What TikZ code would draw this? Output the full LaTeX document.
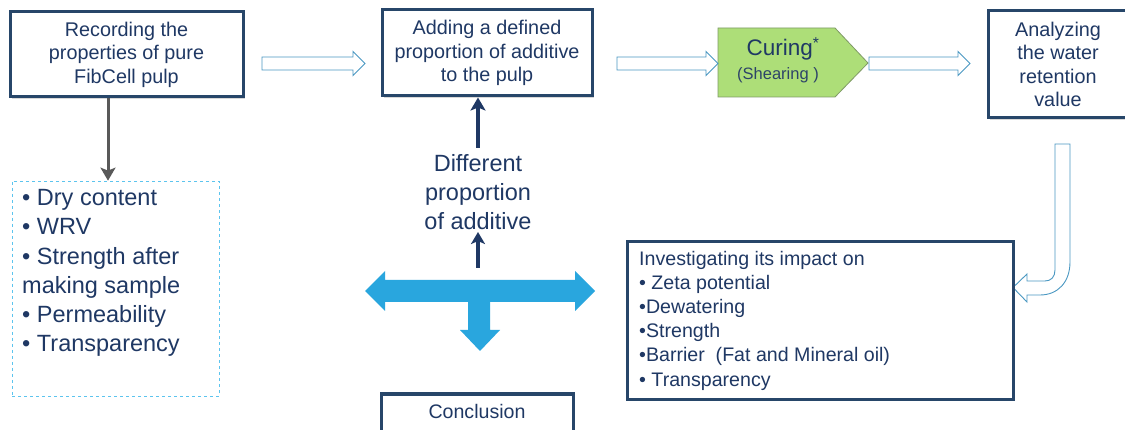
\documentclass[tikz,border=0pt]{standalone}
\usepackage{fontspec}
\setmainfont{Liberation Sans}
\usetikzlibrary{arrows.meta,shadows,calc}
\definecolor{navy}{HTML}{1F3864}
\definecolor{boxline}{HTML}{274669}
\definecolor{hollowline}{HTML}{4A98C2}
\definecolor{crossblue}{HTML}{29A6DE}
\definecolor{curegreen}{HTML}{ADDE78}
\definecolor{cureline}{HTML}{7F9A66}
\definecolor{greyarrow}{HTML}{595959}
\definecolor{dashblue}{HTML}{5CC4EE}
\newcommand\harrowshape[3]{%
  \draw[hollow] (#1,#3-6.5) -- (#2-12,#3-6.5) -- (#2-12,#3-12) -- (#2,#3)
     -- (#2-12,#3+12) -- (#2-12,#3+6.5) -- (#1,#3+6.5) -- cycle;}
\begin{document}
\begin{tikzpicture}[x=1pt,y=-1pt,
  stepbox/.style={draw=boxline,line width=3pt,fill=white,inner sep=0pt,
    text=navy,align=center,font=\fontsize{19.8}{23.5}\selectfont,
    drop shadow={shadow xshift=1.5pt,shadow yshift=-2pt,opacity=0.3,fill=gray}},
  hollow/.style={draw=hollowline,line width=0.9pt,fill=white},
  bigtext/.style={text=navy,font=\fontsize{23.5}{29.2}\selectfont,inner sep=2pt},
  boxtext/.style={text=navy,font=\fontsize{19.6}{24.2}\selectfont,inner sep=0pt},
  tip/.style={-{Stealth[length=13pt,width=15pt,inset=3pt]}}]
\fill[white] (0,0) rectangle (1125,430);
\useasboundingbox (0,0) rectangle (1125,430);

% top row boxes
\node[stepbox,minimum width=233,minimum height=85] (b1) at (126.5,54.5)
  {Recording the\\properties of pure\\FibCell pulp};
\node[stepbox,minimum width=210,minimum height=86] (b2) at (487,53)
  {Adding a defined\\proportion of additive\\to the pulp};
\node[stepbox,minimum width=140,minimum height=107] (b4) at (1058,64.5)
  {Analyzing\\the water\\retention\\value};

% curing shape
\draw[fill=curegreen,draw=cureline,line width=0.8pt] (718,28) -- (835,28) -- (868,63) -- (835,97) -- (718,97) -- cycle;
\node[text=navy,font=\fontsize{22.5}{24}\selectfont,inner sep=0pt] (cure) at (783,49) {Curing\textsuperscript{*}};
\node[text=navy!85!gray,font=\fontsize{16.5}{18}\selectfont,inner sep=0pt] (shear) at (778,75) {(Shearing )};

% hollow arrows
\harrowshape{262}{365}{63.5}
\harrowshape{617}{718}{63.5}
\harrowshape{869}{970}{63.5}

% bent hollow arrow
\draw[hollow] (1055,144) -- (1070,144) -- (1070,262)
  .. controls (1070,282) and (1058,295) .. (1040,295)
  -- (1027,295) -- (1027,302) -- (1013,287.5) -- (1027,274) -- (1027,281)
  -- (1045,281) .. controls (1051,281) and (1055,277) .. (1055,270) -- cycle;

% list box
\node[draw=dashblue,dashed,line width=0.7pt,minimum width=207,minimum height=215,inner sep=0pt] (list) at (115.5,288.5) {};
\node[bigtext,anchor=west,align=left] (listtext) at (20,273)
  {• Dry content\\• WRV\\• Strength after\\making sample\\• Permeability\\• Transparency};

% grey arrow
\coordinate (g) at (108,0);
\draw[greyarrow,line width=3pt,tip] (b1.south -| g) -- (list.north -| g);

% different proportion
\node[bigtext,align=center] (diff) at (478,192) {Different\\proportion\\of additive};
\draw[navy,line width=3.5pt,tip] ([yshift=4pt]diff.north) -- (diff.north |- b2.south);

% blue cross arrow
\coordinate (crosstop) at (478,268);
\fill[crossblue] (365,291) -- (385,271) -- (385,280) -- (575,280) -- (575,271) -- (595,291)
  -- (575,311) -- (575,302) -- (490,302) -- (490,330) -- (500,330) -- (480,351)
  -- (460,330) -- (468,330) -- (468,302) -- (385,302) -- (385,311) -- cycle;
\draw[navy,line width=3.5pt,-{Stealth[length=12pt,width=14pt,inset=3pt]}] (crosstop) -- (diff.south);

% investigating box
\node[stepbox,minimum width=386,minimum height=157] (inv) at (820,320.5) {};
\node[boxtext,anchor=west,align=left] (invtext) at (639,320.5)
  {Investigating its impact on\\• Zeta potential\\•Dewatering\\•Strength\\•Barrier\ \ (Fat and Mineral oil)\\• Transparency};

% conclusion
\node[stepbox,minimum width=192,minimum height=38] (concl) at (477,413) {};
\node[boxtext] (concltext) at (477,411) {Conclusion};
\end{tikzpicture}
\end{document}
